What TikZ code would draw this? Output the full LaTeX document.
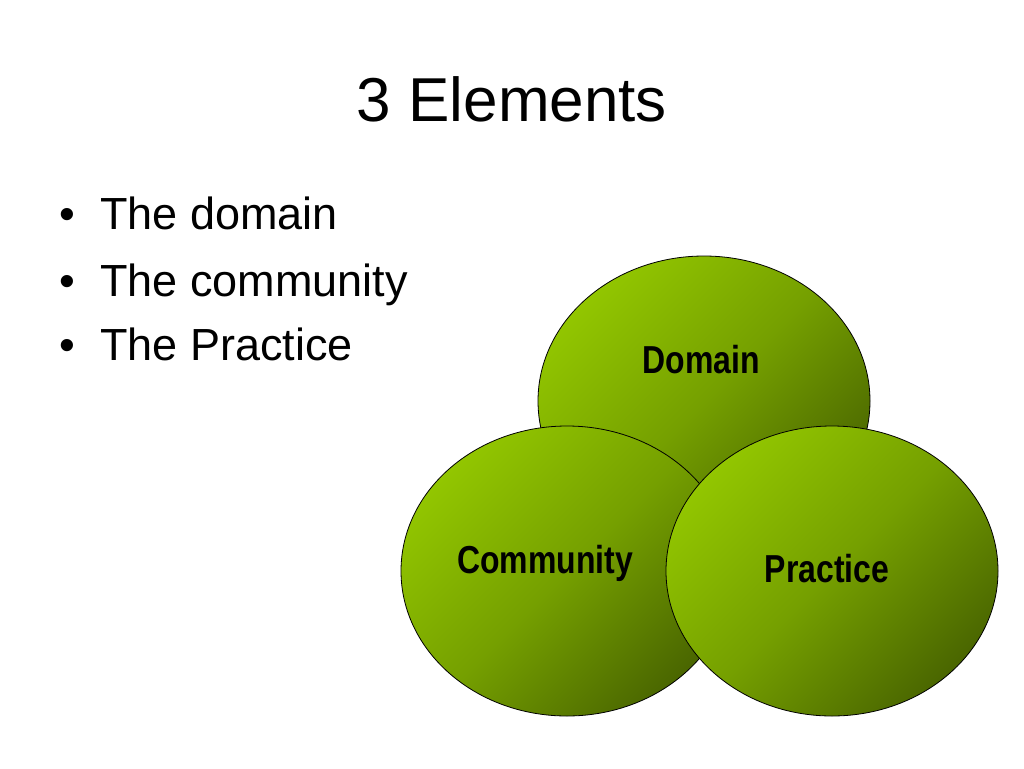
\documentclass[tikz,border=0pt]{standalone}
\usepackage{fontspec}
\setmainfont{Liberation Sans}
\newfontfamily\narrowbold[FakeStretch=0.82]{Liberation Sans Bold}
\usetikzlibrary{shapes.geometric}
\definecolor{glight}{RGB}{146,198,0}
\definecolor{gdark}{RGB}{74,102,0}
\tikzset{
  blob/.style={ellipse, draw=black, line width=0.8pt, inner sep=0pt,
    minimum width=332pt, minimum height=290pt,
    top color=glight, bottom color=gdark, middle color=glight!60!gdark, shading angle=45},
  blobtext/.style={font=\narrowbold\fontsize{39}{44}\selectfont, text=black, anchor=base, inner sep=0pt},
  bullettext/.style={font=\fontsize{45}{52}\selectfont, anchor=base west, inner sep=0pt},
  bulletdot/.style={font=\fontsize{45}{52}\selectfont, anchor=base west, inner sep=0pt}
}
\begin{document}
\begin{tikzpicture}[x=1pt,y=-1pt]
\useasboundingbox[fill=white] (0,0) rectangle (1024,768);
\node[font=\fontsize{62}{72}\selectfont, anchor=base, inner sep=0pt] (title) at (512,121) {3 Elements};
\node[bulletdot] (b1) at (59,229) {•};
\node[bullettext] (t1) at (100,229) {The domain};
\node[bulletdot] (b2) at (59,296) {•};
\node[bullettext] (t2) at (100,296) {The community};
\node[bulletdot] (b3) at (59,360) {•};
\node[bullettext] (t3) at (100,360) {The Practice};
\node[blob] (dom) at (704,401) {};
\node[blob] (com) at (567,571) {};
\node[blob] (pra) at (832,571) {};
\node[blobtext] (domt) at (701,373) {Domain};
\node[blobtext] (comt) at (545,573) {Community};
\node[blobtext] (prat) at (827,582) {Practice};
\end{tikzpicture}
\end{document}
